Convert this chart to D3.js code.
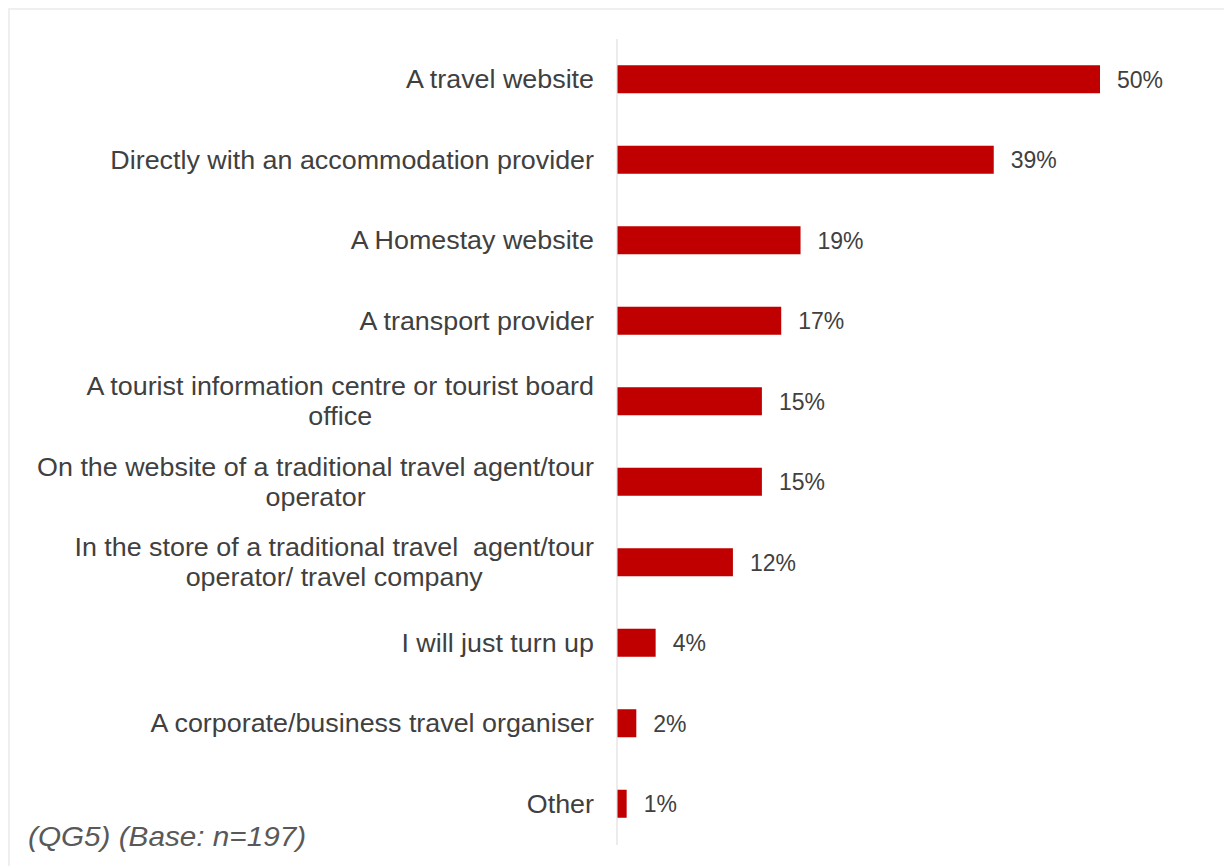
<!DOCTYPE html>
<html>
<head>
<meta charset="utf-8">
<script src="https://cdn.jsdelivr.net/npm/d3@7"></script>
<style>
  html, body { margin: 0; padding: 0; background: #fff; }
  svg { display: block; }
  text { font-family: "Liberation Sans", Arial, sans-serif; fill: #404040; white-space: pre; }
</style>
</head>
<body>
<svg id="chart" width="1224" height="866"></svg>
<script>
// Where respondents would book accommodation (share of respondents, %)
const categories = [
  "A travel website",
  "Directly with an accommodation provider",
  "A Homestay website",
  "A transport provider",
  "A tourist information centre or tourist board\noffice",
  "On the website of a traditional travel agent/tour\noperator",
  "In the store of a traditional travel  agent/tour\noperator/ travel company",
  "I will just turn up",
  "A corporate/business travel organiser",
  "Other"
];
const values = [50, 39, 19, 17, 15, 15, 12, 4, 2, 1];
const footnote = "(QG5) (Base: n=197)";

const svg = d3.select("#chart");

// Light frame along the top and left edges
svg.append("rect")
  .attr("x", 9).attr("y", 9)
  .attr("width", 1230).attr("height", 870)
  .attr("fill", "none")
  .attr("stroke", "#efefef")
  .attr("stroke-width", 2);

const x = d3.scaleLinear().domain([0, 50]).range([617, 1100]);
const y = d3.scaleBand()
  .domain(categories)
  .range([39, 844])
  .paddingInner(0.652)
  .paddingOuter(0.326);

// Vertical category axis line
svg.append("line")
  .attr("x1", x(0)).attr("x2", x(0))
  .attr("y1", 39).attr("y2", 845)
  .attr("stroke", "#d9d9d9")
  .attr("stroke-width", 1);

// Bars
svg.append("g").selectAll("rect")
  .data(values)
  .join("rect")
  .attr("x", x(0) + 0.5)
  .attr("y", (d, i) => y(categories[i]))
  .attr("width", d => x(d) - x(0) - 0.5)
  .attr("height", y.bandwidth())
  .attr("fill", "#c00000");

// Value labels
svg.append("g").selectAll("text")
  .data(values)
  .join("text")
  .attr("x", d => x(d) + 17)
  .attr("y", (d, i) => y(categories[i]) + y.bandwidth() / 2)
  .attr("dy", "0.36em")
  .attr("font-size", 23)
  .text(d => d + "%");

// Category labels: block right-aligned to the axis, lines centred within the block
const labelRight = 594;
const lineH = 30;
const stretch = 1.075;
const labels = svg.append("g");
categories.forEach(cat => {
  const lines = cat.split("\n");
  const cy = y(cat) + y.bandwidth() / 2;
  const t = labels.append("text")
    .attr("font-size", 25)
    .attr("text-anchor", "middle")
    .attr("xml:space", "preserve")
    .attr("transform", `translate(${labelRight},0) scale(${stretch},1)`);
  const spans = lines.map((ln, j) => t.append("tspan")
    .attr("y", cy + (j - (lines.length - 1) / 2) * lineH)
    .attr("dy", "0.36em")
    .text(ln));
  const maxW = d3.max(spans, s => s.node().getComputedTextLength());
  spans.forEach(s => s.attr("x", -maxW / 2));
});

// Base note
svg.append("text")
  .attr("transform", "translate(28,846) scale(1.1,1)")
  .attr("font-size", 27)
  .attr("font-style", "italic")
  .style("fill", "#595959")
  .text(footnote);
</script>
</body>
</html>
